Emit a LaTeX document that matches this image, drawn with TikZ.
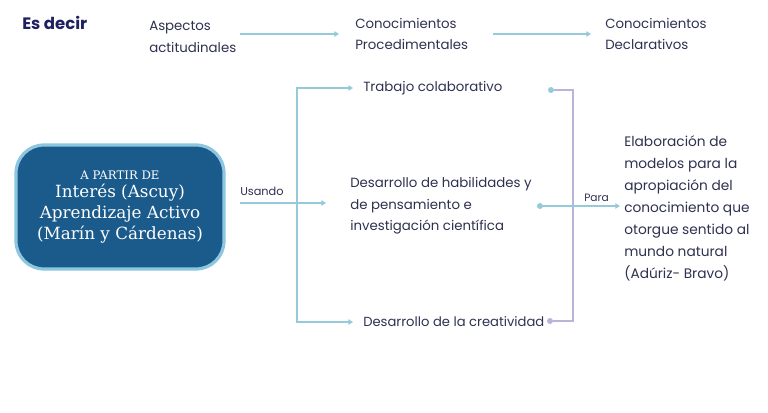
\documentclass[tikz,border=0pt]{standalone}
\usepackage{fontspec}
\setmainfont{Poppins}
\newfontfamily\serifbox{DejaVu Serif}
\usetikzlibrary{arrows.meta}
\definecolor{ink}{HTML}{2E3150}
\definecolor{navy}{HTML}{1F2060}
\definecolor{lblue}{HTML}{96C9D9}
\definecolor{lav}{HTML}{B8B4DA}
\definecolor{boxfill}{HTML}{1B5B8B}
\definecolor{boxline}{HTML}{8CC6DF}
\begin{document}
\begin{tikzpicture}[x=0.75pt,y=-0.75pt,
  txt/.style={font=\fontsize{10}{16.2}\selectfont, text=ink, inner sep=0, align=left, anchor=west},
  rtxt/.style={font=\fontsize{10.3}{16.5}\selectfont, text=ink, inner sep=0, align=left, anchor=west},
  small/.style={font=\fontsize{8.5}{10}\selectfont, text=ink, inner sep=0, anchor=west},
  conn/.style={draw=lblue, line width=1.1pt},
  arr/.style={conn, -{Triangle[length=3.5pt,width=4pt]}},
  lconn/.style={draw=lav, line width=1.1pt},
  dotb/.style={circle, fill=lblue, inner sep=0, minimum size=4.5pt},
  dotl/.style={circle, fill=lav, inner sep=0, minimum size=4.5pt},
  bigbox/.style={rounded corners=21pt, fill=boxfill, draw=boxline, line width=2.4pt,
    minimum width=156pt, minimum height=93pt, text=white, align=center,
    font=\serifbox\fontsize{12.6}{15.9}\selectfont}
]
\useasboundingbox (0,0) rectangle (768,413);

% top row
\node[anchor=west, inner sep=0, text=navy, font=\fontsize{12.4}{14}\selectfont\bfseries] (esdecir) at (22,23) {Es decir};
\node[txt] (aspectos) at (149,37) {Aspectos\\actitudinales};
\node[txt] (procedim) at (355,34) {Conocimientos\\Procedimentales};
\node[txt] (declar) at (605,34) {Conocimientos\\Declarativos};
\coordinate (a1s) at (240,34);
\coordinate (a2s) at (493,34);
\draw[arr, shorten >=12pt] (a1s) -- (procedim.west);
\draw[arr, shorten >=10.5pt] (a2s) -- (declar.west);

% main box
\node[bigbox] (box) at (120,207) {{\fontsize{8.8}{10}\selectfont A PARTIR DE}\\[-2.5pt]Interés (Ascuy)\\Aprendizaje Activo\\(Marín y Cárdenas)};
\node[small] (usando) at (240,191) {Usando};

% middle column
\node[txt] (trabajo) at (363,88) {Trabajo colaborativo};
\node[txt] (habil) at (350,206) {Desarrollo de habilidades y\\de pensamiento e\\investigación científica};
\node[txt, font=\fontsize{9.85}{12}\selectfont] (creat) at (363,322) {Desarrollo de la creatividad};

\coordinate (usStart) at (240,203);
\coordinate (usJ) at (297,203);
\draw[conn] (usStart) -- (usJ);
\draw[arr, shorten >=18pt] (usJ) -- (usJ -| habil.west);
\draw[arr, shorten >=7.5pt] (usJ) |- (trabajo.west);
\draw[arr, shorten >=7.5pt] (usJ) |- (creat.west);

% right bracket
\node[dotb] (d1) at (551,90) {};
\node[dotl] (d3) at (550,321) {};
\node[dotb] (d2) at (540,206) {};
\coordinate (brT) at (573,90);
\coordinate (brB) at (573,321);
\draw[lconn] (d1) -- (brT) -- (brB) -- (d3);

\node[rtxt] (elab) at (624,208) {Elaboración de\\modelos para la\\apropiación del\\conocimiento que\\otorgue sentido al\\mundo natural\\(Adúriz- Bravo)};
\draw[arr, shorten >=3pt] (d2) -- (d2 -| elab.west);
\node[small, font=\fontsize{8}{10}\selectfont] (para) at (584,198) {Para};
\end{tikzpicture}
\end{document}
